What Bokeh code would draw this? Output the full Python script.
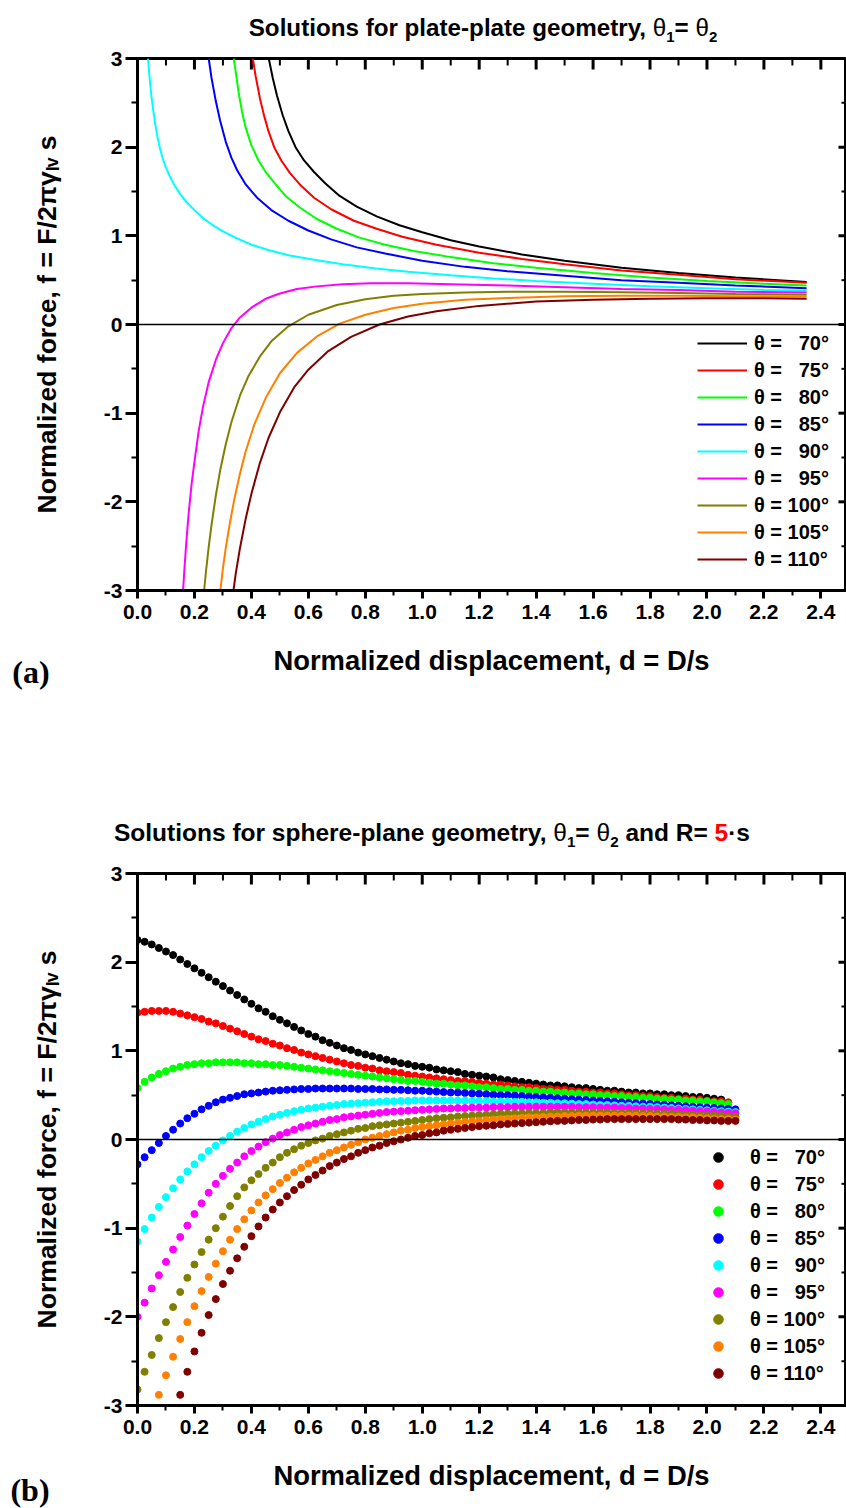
from bokeh.plotting import figure
from bokeh.layouts import column
from bokeh.models import (SingleIntervalTicker, Span, Legend, LegendItem, Range1d,
                          NumeralTickFormatter, Div)
from bokeh.embed import file_html
from bokeh.resources import INLINE

# ---------------------------------------------------------------- data
ANGLES = [70, 75, 80, 85, 90, 95, 100, 105, 110]
COLORS = ["#000000", "#ff0000", "#00ff00", "#0000ff", "#00ffff",
          "#ff00ff", "#808000", "#ff8000", "#800000"]

# (a) plate-plate geometry: displacement d and force f for each contact angle
pp_d_70 = [0.461, 0.475, 0.49, 0.51, 0.53, 0.555, 0.585, 0.62, 0.66, 0.71, 0.77, 0.84, 0.92,
           1.0, 1.1, 1.2, 1.35, 1.5, 1.7, 1.9, 2.1, 2.35]
pp_f_70 = [3.0, 2.78, 2.58, 2.36, 2.18, 2.00, 1.85, 1.72, 1.59, 1.45, 1.33, 1.22, 1.12,
           1.04, 0.95, 0.88, 0.79, 0.72, 0.64, 0.58, 0.53, 0.48]
pp_d_75 = [0.405, 0.415, 0.43, 0.445, 0.46, 0.48, 0.505, 0.535, 0.57, 0.62, 0.68, 0.76, 0.84,
           0.93, 1.05, 1.2, 1.35, 1.5, 1.7, 1.9, 2.1, 2.35]
pp_f_75 = [3.0, 2.80, 2.55, 2.35, 2.18, 2.00, 1.85, 1.71, 1.58, 1.43, 1.30, 1.17, 1.08,
           0.99, 0.90, 0.81, 0.74, 0.68, 0.61, 0.56, 0.51, 0.47]
pp_d_80 = [0.338, 0.345, 0.355, 0.367, 0.38, 0.4, 0.425, 0.45, 0.48, 0.52, 0.57, 0.63, 0.7,
           0.78, 0.87, 0.97, 1.1, 1.25, 1.4, 1.6, 1.8, 2.0, 2.2, 2.35]
pp_f_80 = [3.0, 2.85, 2.62, 2.40, 2.22, 2.02, 1.85, 1.72, 1.60, 1.45, 1.32, 1.19, 1.08,
           0.98, 0.90, 0.83, 0.76, 0.69, 0.64, 0.58, 0.53, 0.49, 0.46, 0.44]
pp_d_85 = [0.25, 0.26, 0.275, 0.29, 0.31, 0.33, 0.35, 0.38, 0.42, 0.47, 0.53, 0.6, 0.68,
           0.77, 0.87, 1.0, 1.15, 1.3, 1.5, 1.7, 1.9, 2.1, 2.35]
pp_f_85 = [3.0, 2.78, 2.52, 2.30, 2.06, 1.88, 1.74, 1.58, 1.43, 1.29, 1.17, 1.06, 0.96,
           0.87, 0.80, 0.72, 0.65, 0.60, 0.55, 0.50, 0.47, 0.44, 0.41]
pp_d_90 = [0.037, 0.042, 0.048, 0.055, 0.063, 0.071, 0.08, 0.09, 0.1, 0.115, 0.13, 0.15,
           0.175, 0.2, 0.23, 0.26, 0.3, 0.35, 0.4, 0.46, 0.53, 0.62, 0.72, 0.83, 0.95, 1.1,
           1.25, 1.4, 1.6, 1.8, 2.0, 2.2, 2.35]
pp_f_90 = [3.0, 2.80, 2.60, 2.42, 2.25, 2.10, 1.97, 1.86, 1.77, 1.66, 1.57, 1.47,
           1.37, 1.29, 1.20, 1.13, 1.05, 0.97, 0.90, 0.84, 0.78, 0.73, 0.68, 0.635, 0.595, 0.555,
           0.52, 0.49, 0.46, 0.43, 0.41, 0.39, 0.38]
pp_d_95 = [0.16, 0.165, 0.17, 0.175, 0.18, 0.19, 0.2, 0.215, 0.23, 0.25, 0.275, 0.3, 0.33,
           0.36, 0.4, 0.45, 0.5, 0.56, 0.63, 0.72, 0.82, 0.95, 1.1, 1.3, 1.5, 1.7, 1.9, 2.1, 2.35]
pp_f_95 = [-3.0, -2.75, -2.52, -2.31, -2.12, -1.80, -1.55, -1.20, -0.93, -0.65, -0.40, -0.21, -0.04,
           0.08, 0.19, 0.29, 0.35, 0.40, 0.43, 0.455, 0.465, 0.465, 0.455, 0.44, 0.42, 0.40, 0.39,
           0.37, 0.36]
pp_d_100 = [0.234, 0.24, 0.25, 0.26, 0.275, 0.29, 0.31, 0.33, 0.36, 0.39, 0.43, 0.47, 0.53,
            0.6, 0.7, 0.8, 0.9, 1.0, 1.15, 1.3, 1.5, 1.7, 1.9, 2.1, 2.35]
pp_f_100 = [-3.0, -2.80, -2.51, -2.26, -1.93, -1.65, -1.35, -1.10, -0.80, -0.58, -0.36, -0.19,
            -0.02, 0.11, 0.22, 0.285, 0.325, 0.345, 0.36, 0.37, 0.37, 0.365, 0.355, 0.345, 0.335]
pp_d_105 = [0.291, 0.3, 0.31, 0.325, 0.34, 0.36, 0.38, 0.41, 0.45, 0.5, 0.56, 0.63, 0.71,
            0.8, 0.9, 1.0, 1.15, 1.3, 1.5, 1.7, 1.9, 2.1, 2.35]
pp_f_105 = [-3.0, -2.75, -2.52, -2.23, -1.97, -1.68, -1.43, -1.13, -0.83, -0.55, -0.32, -0.135,
            0.01, 0.11, 0.185, 0.235, 0.28, 0.30, 0.32, 0.325, 0.325, 0.32, 0.315]
pp_d_110 = [0.337, 0.345, 0.36, 0.38, 0.4, 0.43, 0.46, 0.5, 0.55, 0.6, 0.67, 0.75, 0.85,
            0.95, 1.05, 1.2, 1.4, 1.6, 1.8, 2.0, 2.2, 2.35]
pp_f_110 = [-3.0, -2.81, -2.52, -2.19, -1.91, -1.56, -1.28, -0.99, -0.71, -0.51, -0.30, -0.14,
            0.0, 0.09, 0.15, 0.21, 0.26, 0.28, 0.29, 0.295, 0.295, 0.29]

# (b) sphere-plane geometry, R = 5 s: force sampled every D_STEP from sp_start_*
D_STEP = 0.025
sp_start_70 = 0.0
sp_f_70 = [2.25, 2.23, 2.20, 2.16, 2.12, 2.08, 2.03, 1.98, 1.93, 1.88, 1.83, 1.78, 1.73, 1.68,
           1.63, 1.58, 1.53, 1.48, 1.44, 1.39, 1.35, 1.31, 1.27, 1.23, 1.19, 1.16, 1.12, 1.09,
           1.06, 1.03, 1.01, 0.98, 0.96, 0.94, 0.92, 0.90, 0.88, 0.86, 0.85, 0.83, 0.82, 0.81,
           0.79, 0.78, 0.77, 0.76, 0.74, 0.73, 0.72, 0.71, 0.70, 0.68, 0.67, 0.66, 0.65, 0.64,
           0.63, 0.62, 0.61, 0.61, 0.60, 0.59, 0.58, 0.58, 0.57, 0.56, 0.55, 0.55, 0.54, 0.53,
           0.53, 0.52, 0.52, 0.51, 0.51, 0.50, 0.50, 0.49, 0.48, 0.48, 0.47, 0.46, 0.45]
sp_start_75 = 0.0
sp_f_75 = [1.43, 1.44, 1.45, 1.45, 1.45, 1.44, 1.42, 1.40, 1.38, 1.36, 1.33, 1.31, 1.28, 1.25,
           1.22, 1.19, 1.16, 1.13, 1.11, 1.08, 1.06, 1.03, 1.01, 0.98, 0.96, 0.94, 0.92, 0.90,
           0.88, 0.86, 0.84, 0.83, 0.81, 0.80, 0.78, 0.77, 0.76, 0.75, 0.73, 0.72, 0.71, 0.70,
           0.69, 0.68, 0.67, 0.66, 0.66, 0.65, 0.64, 0.63, 0.62, 0.62, 0.61, 0.60, 0.59, 0.59,
           0.58, 0.57, 0.57, 0.56, 0.56, 0.55, 0.54, 0.54, 0.53, 0.53, 0.52, 0.52, 0.51, 0.50,
           0.50, 0.49, 0.49, 0.48, 0.47, 0.47, 0.46, 0.46, 0.45, 0.45, 0.44, 0.43, 0.43, 0.42]
sp_start_80 = 0.0
sp_f_80 = [0.58, 0.65, 0.70, 0.74, 0.77, 0.80, 0.82, 0.84, 0.85, 0.86, 0.86, 0.87, 0.87, 0.87,
           0.87, 0.86, 0.86, 0.85, 0.85, 0.84, 0.84, 0.83, 0.82, 0.81, 0.80, 0.79, 0.78, 0.77,
           0.76, 0.75, 0.74, 0.73, 0.72, 0.71, 0.70, 0.69, 0.68, 0.67, 0.66, 0.66, 0.65, 0.64,
           0.63, 0.63, 0.62, 0.61, 0.61, 0.60, 0.59, 0.59, 0.58, 0.57, 0.57, 0.56, 0.56, 0.55,
           0.55, 0.54, 0.54, 0.53, 0.53, 0.52, 0.52, 0.51, 0.51, 0.50, 0.50, 0.49, 0.49, 0.48,
           0.48, 0.47, 0.47, 0.46, 0.46, 0.45, 0.45, 0.44, 0.44, 0.43, 0.43, 0.42, 0.41, 0.40]
sp_start_85 = 0.0
sp_f_85 = [-0.28, -0.20, -0.12, -0.04, 0.04, 0.11, 0.18, 0.24, 0.29, 0.34, 0.38, 0.42, 0.45,
           0.47, 0.49, 0.51, 0.52, 0.53, 0.54, 0.55, 0.555, 0.56, 0.565, 0.57, 0.57, 0.575,
           0.575, 0.575, 0.575, 0.575, 0.575, 0.57, 0.57, 0.57, 0.565, 0.565, 0.56, 0.56, 0.555,
           0.55, 0.55, 0.545, 0.54, 0.535, 0.53, 0.53, 0.525, 0.52, 0.515, 0.51, 0.505, 0.50,
           0.50, 0.495, 0.49, 0.485, 0.48, 0.475, 0.47, 0.465, 0.46, 0.455, 0.45, 0.445, 0.44,
           0.435, 0.43, 0.425, 0.42, 0.415, 0.41, 0.405, 0.40, 0.395, 0.39, 0.385, 0.38, 0.375,
           0.37, 0.365, 0.36, 0.355, 0.35, 0.345, 0.34]
sp_start_90 = 0.0
sp_f_90 = [-1.15, -1.01, -0.88, -0.76, -0.65, -0.55, -0.45, -0.36, -0.28, -0.20, -0.13, -0.07,
           -0.01, 0.04, 0.09, 0.13, 0.17, 0.20, 0.23, 0.26, 0.28, 0.30, 0.32, 0.335, 0.35, 0.36,
           0.37, 0.38, 0.39, 0.40, 0.405, 0.41, 0.415, 0.42, 0.425, 0.43, 0.43, 0.435, 0.435,
           0.44, 0.44, 0.44, 0.44, 0.44, 0.44, 0.44, 0.44, 0.435, 0.435, 0.435, 0.43, 0.43, 0.43,
           0.425, 0.425, 0.42, 0.42, 0.415, 0.415, 0.41, 0.41, 0.405, 0.40, 0.40, 0.395, 0.39,
           0.39, 0.385, 0.38, 0.38, 0.375, 0.37, 0.37, 0.365, 0.36, 0.355, 0.35, 0.345, 0.34,
           0.335, 0.33, 0.325, 0.32, 0.315, 0.31]
sp_start_95 = 0.0
sp_f_95 = [-2.00, -1.84, -1.68, -1.53, -1.38, -1.24, -1.10, -0.97, -0.84, -0.72, -0.60, -0.50,
           -0.41, -0.33, -0.26, -0.19, -0.13, -0.08, -0.03, 0.01, 0.05, 0.08, 0.11, 0.14, 0.16,
           0.18, 0.20, 0.22, 0.23, 0.25, 0.26, 0.27, 0.28, 0.29, 0.30, 0.31, 0.315, 0.32, 0.325,
           0.33, 0.335, 0.34, 0.345, 0.35, 0.35, 0.355, 0.355, 0.36, 0.36, 0.36, 0.365, 0.365,
           0.365, 0.37, 0.37, 0.37, 0.37, 0.37, 0.37, 0.37, 0.37, 0.37, 0.365, 0.365, 0.365,
           0.36, 0.36, 0.36, 0.355, 0.355, 0.35, 0.35, 0.345, 0.345, 0.34, 0.335, 0.335, 0.33,
           0.325, 0.32, 0.315, 0.31, 0.305, 0.30, 0.295]
sp_start_100 = 0.0
sp_f_100 = [-2.82, -2.62, -2.43, -2.24, -2.06, -1.89, -1.72, -1.56, -1.41, -1.27, -1.13, -1.00,
            -0.87, -0.75, -0.64, -0.54, -0.46, -0.39, -0.32, -0.26, -0.20, -0.15, -0.11, -0.07,
            -0.04, -0.01, 0.01, 0.04, 0.06, 0.08, 0.10, 0.12, 0.13, 0.15, 0.16, 0.17, 0.18, 0.19,
            0.20, 0.21, 0.22, 0.23, 0.24, 0.245, 0.25, 0.26, 0.265, 0.27, 0.275, 0.28, 0.285,
            0.29, 0.29, 0.295, 0.295, 0.30, 0.30, 0.30, 0.305, 0.305, 0.305, 0.305, 0.305, 0.305,
            0.305, 0.305, 0.305, 0.30, 0.30, 0.30, 0.30, 0.295, 0.295, 0.29, 0.29, 0.29, 0.285,
            0.28, 0.28, 0.275, 0.27, 0.27, 0.265, 0.26, 0.255]
sp_start_105 = 0.075
sp_f_105 = [-2.88, -2.66, -2.45, -2.25, -2.06, -1.88, -1.71, -1.55, -1.40, -1.26, -1.13, -1.01,
            -0.90, -0.80, -0.71, -0.63, -0.56, -0.49, -0.43, -0.37, -0.32, -0.27, -0.23, -0.19,
            -0.15, -0.12, -0.09, -0.06, -0.03, 0.00, 0.02, 0.04, 0.06, 0.08, 0.10, 0.11, 0.13,
            0.14, 0.15, 0.16, 0.17, 0.18, 0.19, 0.20, 0.205, 0.21, 0.22, 0.225, 0.23, 0.235,
            0.24, 0.245, 0.25, 0.25, 0.255, 0.26, 0.26, 0.265, 0.265, 0.27, 0.27, 0.27, 0.27,
            0.27, 0.27, 0.27, 0.27, 0.27, 0.265, 0.265, 0.26, 0.26, 0.255, 0.255, 0.25, 0.25,
            0.245, 0.24, 0.235, 0.23, 0.23, 0.225]
sp_start_110 = 0.15
sp_f_110 = [-2.88, -2.62, -2.39, -2.18, -1.98, -1.80, -1.63, -1.48, -1.34, -1.21, -1.09, -0.98,
            -0.88, -0.79, -0.71, -0.64, -0.57, -0.51, -0.45, -0.40, -0.35, -0.30, -0.26, -0.22,
            -0.19, -0.15, -0.12, -0.09, -0.07, -0.04, -0.02, 0.00, 0.02, 0.04, 0.05, 0.07, 0.08,
            0.10, 0.11, 0.12, 0.13, 0.14, 0.15, 0.155, 0.16, 0.17, 0.175, 0.18, 0.185, 0.19,
            0.195, 0.20, 0.205, 0.21, 0.21, 0.215, 0.22, 0.22, 0.225, 0.225, 0.23, 0.23, 0.23,
            0.23, 0.23, 0.23, 0.23, 0.23, 0.23, 0.23, 0.225, 0.225, 0.22, 0.22, 0.215, 0.215,
            0.21, 0.21, 0.21]

PP_D = [pp_d_70, pp_d_75, pp_d_80, pp_d_85, pp_d_90, pp_d_95, pp_d_100, pp_d_105, pp_d_110]
PP_F = [pp_f_70, pp_f_75, pp_f_80, pp_f_85, pp_f_90, pp_f_95, pp_f_100, pp_f_105, pp_f_110]
SP_START = [sp_start_70, sp_start_75, sp_start_80, sp_start_85, sp_start_90, sp_start_95,
            sp_start_100, sp_start_105, sp_start_110]
SP_F = [sp_f_70, sp_f_75, sp_f_80, sp_f_85, sp_f_90, sp_f_95, sp_f_100, sp_f_105, sp_f_110]

X_TICK_STEP = 0.2
Y_TICK_STEP = 1
X_LABEL = "Normalized displacement, d = D/s"
Y_LABEL = "Normalized force, f = F/2\u03c0\u03b3\u2097\u1d65 s"

# ---------------------------------------------------------------- layout
W = 846
FRAME_L = 137
FRAME_H = 532
BORDER_T = 14
BORDER_B = 45
FIG_H = BORDER_T + FRAME_H + BORDER_B
X_END = 2.49
XS = (W - FRAME_L) / X_END          # px per unit of d
YS = FRAME_H / 6.0                   # px per unit of f
FONT = "Liberation Sans"
CSS_FONT = "'Liberation Sans', Arial, sans-serif"
SERIF = "'Liberation Serif', 'Times New Roman', serif"


def legend_label(angle):
    pad = "\u2007" if angle < 100 else ""
    return f"\u03b8 = {pad}{angle}\u00b0"


def make_panel():
    p = figure(width=W, height=FIG_H, x_range=Range1d(0, X_END), y_range=Range1d(-3, 3),
               output_backend="svg", toolbar_location=None,
               min_border_left=FRAME_L, min_border_right=0, min_border_top=BORDER_T,
               min_border_bottom=BORDER_B,
               background_fill_color="white", border_fill_color="white",
               outline_line_color="black", outline_line_width=3)
    p.xgrid.visible = False
    p.ygrid.visible = False

    xa = p.xaxis[0]
    xa.ticker = SingleIntervalTicker(interval=X_TICK_STEP, num_minor_ticks=2)
    xa.formatter = NumeralTickFormatter(format="0.0")
    xa.major_tick_in, xa.major_tick_out = 0, 8
    xa.minor_tick_in, xa.minor_tick_out = 0, 5
    xa.major_label_standoff = 6

    ya = p.yaxis[0]
    ya.ticker = SingleIntervalTicker(interval=Y_TICK_STEP, num_minor_ticks=2)
    ya.formatter = NumeralTickFormatter(format="0")
    ya.axis_label = Y_LABEL
    ya.major_tick_in, ya.major_tick_out = 0, 12
    ya.minor_tick_in, ya.minor_tick_out = 0, 6
    ya.major_label_standoff = 3
    ya.axis_label_standoff = 39

    for ax in (xa, ya):
        ax.axis_line_width = 3
        ax.major_tick_line_width = 3
        ax.minor_tick_line_width = 2
        ax.major_label_text_font = FONT
        ax.major_label_text_font_style = "bold"
        ax.major_label_text_font_size = "21px"
        ax.major_label_text_color = "black"
        ax.axis_label_text_font = FONT
        ax.axis_label_text_font_style = "bold"
        ax.axis_label_text_font_size = "26.5px"
        ax.axis_label_text_color = "black"

    # inward ticks along the top and right edges of the frame
    xt = [round(i * X_TICK_STEP / 2, 2) for i in range(int(X_END / (X_TICK_STEP / 2)) + 1)]
    xt_major = [i % 2 == 0 for i in range(len(xt))]
    p.segment(x0=xt, y0=[3] * len(xt), x1=xt,
              y1=[3 - (11 if m else 7) / YS for m in xt_major],
              line_color="black", line_width=[3 if m else 2 for m in xt_major])
    yt = [-3 + i * Y_TICK_STEP / 2 for i in range(13)]
    yt_major = [i % 2 == 0 for i in range(len(yt))]
    p.segment(x0=[X_END] * len(yt), y0=yt, x1=[X_END - (8 if m else 5) / XS for m in yt_major],
              y1=yt, line_color="black", line_width=[3 if m else 2 for m in yt_major])

    p.add_layout(Span(location=0, dimension="width", line_color="black", line_width=1.5))
    return p


def make_legend(items, px_left, py_top):
    row = 27
    return Legend(items=items, location=(px_left - FRAME_L, (BORDER_T + FRAME_H) - (py_top + row * 9)),
                  orientation="vertical", background_fill_alpha=0, border_line_color=None,
                  padding=0, margin=0, spacing=3, glyph_width=50, glyph_height=24,
                  label_height=24, label_standoff=7, label_text_font=FONT,
                  label_text_font_style="bold", label_text_font_size="20px",
                  label_text_color="black")


def span(text, left, top, size, family=CSS_FONT, anchor="-50%", color="black"):
    return (f'<span style="position:absolute;left:{left}px;top:{top}px;'
            f'transform:translate({anchor},-50%);white-space:nowrap;font-family:{family};'
            f'font-weight:bold;font-size:{size}px;color:{color};line-height:1;">{text}</span>')


def text_block(height, spans):
    html = (f'<div style="position:relative;width:{W}px;height:{height}px;">'
            + "".join(spans) + "</div>")
    return Div(text=html, width=W, height=height, margin=0,
               styles={"margin": "0", "padding": "0", "overflow": "visible"})


TH = '<span style="font-weight:normal">\u03b8</span>'
SUB = '<sub style="font-size:0.62em;vertical-align:-0.35em">{}</sub>'
TITLE_A = f"Solutions for plate-plate geometry, {TH}{SUB.format(1)}= {TH}{SUB.format(2)}"
TITLE_B = (f"Solutions for sphere-plane geometry, {TH}{SUB.format(1)}= {TH}{SUB.format(2)} "
           f'and R= <span style="color:#ff0000">5</span>\u00b7s')

# ---------------------------------------------------------------- (a) plate-plate
pa = make_panel()
items_a = []
for ang, col, d, f in zip(ANGLES, COLORS, PP_D, PP_F):
    r = pa.line(d, f, line_color=col, line_width=2)
    items_a.append(LegendItem(label=legend_label(ang), renderers=[r]))
pa.add_layout(make_legend(items_a, 697, 328 - 58 + BORDER_T))

# ---------------------------------------------------------------- (b) sphere-plane
pb = make_panel()
items_b = []
for ang, col, d0, f in zip(ANGLES, COLORS, SP_START, SP_F):
    d = [round(d0 + i * D_STEP, 4) for i in range(len(f))]
    r = pb.scatter(d, f, size=7, fill_color=col, line_color=col)
    items_b.append(LegendItem(label=legend_label(ang), renderers=[r]))
pb.add_layout(make_legend(items_b, 693, 1142 - 873 + BORDER_T))

# ---------------------------------------------------------------- page
TOP_H = 58 - BORDER_T                          # block above panel (a)
MID_TOP = TOP_H + FIG_H                        # page y where the middle block starts
MID_H = (873 - BORDER_T) - MID_TOP             # block between the panels
BOT_TOP = MID_TOP + MID_H + FIG_H
BOT_H = 1508 - BOT_TOP
X_MID = (FRAME_L + W) / 2

top_block = text_block(TOP_H, [span(TITLE_A, 483, 30, 24.2)])
mid_block = text_block(MID_H, [
    span(X_LABEL, X_MID, 661 - MID_TOP, 27.4),
    span("(a)", 31, 672 - MID_TOP, 32, family=SERIF),
    span(TITLE_B, 432, 835 - MID_TOP, 24.5),
])
bot_block = text_block(BOT_H, [
    span(X_LABEL, X_MID, 1476 - BOT_TOP, 27.4),
    span("(b)", 30, 1490 - BOT_TOP, 32, family=SERIF),
])

layout = column(top_block, pa, mid_block, pb, bot_block, spacing=0)
open("out.html", "w").write(file_html(layout, INLINE))
